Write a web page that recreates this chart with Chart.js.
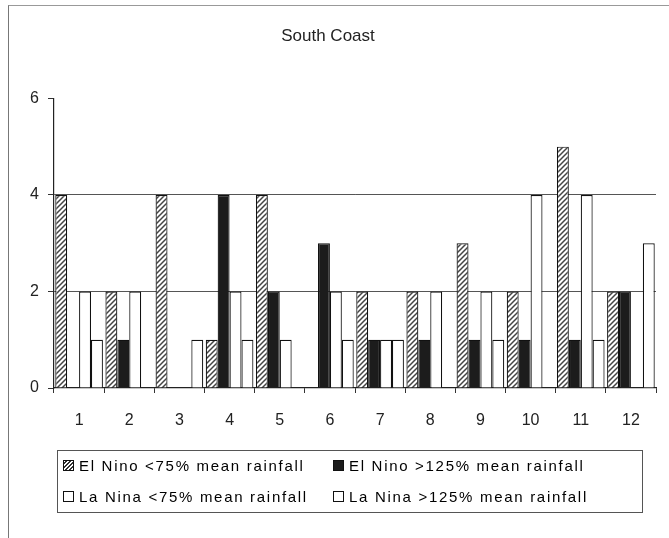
<!DOCTYPE html>
<html>
<head>
<meta charset="utf-8">
<script src="https://cdn.jsdelivr.net/npm/chart.js@4.4.0/dist/chart.umd.min.js"></script>
<style>
  body { margin: 0; background: #fff; }
  #wrap { position: relative; width: 669px; height: 538px; overflow: hidden; }
  #frame { position: absolute; left: 8px; top: 5px; width: 680px; height: 560px; border-left: 1px solid #777; border-top: 1px solid #999; }
  canvas { position: absolute; left: 0; top: 0; }
  .legend { position: absolute; left: 57px; top: 450px; width: 584px; height: 61px; border: 1px solid #555;
            font: 15px "Liberation Sans", Arial, sans-serif; letter-spacing: 1.7px; color: #000; }
  .item { position: absolute; display: flex; align-items: center; white-space: nowrap; }
  .sw { width: 9px; height: 9px; border: 1px solid #111; margin-right: 5px; background: #fff; }
</style>
</head>
<body>
<div id="wrap">
  <div id="frame"></div>
  <canvas id="rainChart" width="669" height="538"></canvas>
  <div class="legend" id="legend"></div>
</div>
<script>
// months and counts per series
const months = ['1', '2', '3', '4', '5', '6', '7', '8', '9', '10', '11', '12'];
const elNinoDry = [4, 2, 4, 1, 4, 0, 2, 2, 3, 2, 5, 2];
const elNinoWet = [0, 1, 0, 4, 2, 3, 1, 1, 1, 1, 1, 2];
const laNinaDry = [2, 2, 0, 2, 1, 2, 1, 2, 2, 4, 4, 0];
const laNinaWet = [1, 0, 1, 1, 0, 1, 1, 0, 1, 0, 1, 3];
const yTicks = [0, 2, 4, 6];
const seriesNames = ['El Nino <75% mean rainfall', 'El Nino >125% mean rainfall',
                     'La Nina <75% mean rainfall', 'La Nina >125% mean rainfall'];

// diagonal hatch for the first series
function hatch() {
  const c = document.createElement('canvas');
  c.width = 5; c.height = 5;
  const g = c.getContext('2d');
  g.fillStyle = '#fff';
  g.fillRect(0, 0, 5, 5);
  g.strokeStyle = '#444';
  g.lineWidth = 1.5;
  g.beginPath();
  g.moveTo(0, 5); g.lineTo(5, 0);
  g.moveTo(-1, 1); g.lineTo(1, -1);
  g.moveTo(4, 6); g.lineTo(6, 4);
  g.stroke();
  return g.createPattern(c, 'repeat');
}

const ctx = document.getElementById('rainChart').getContext('2d');
const fills = [hatch(), '#1c1c1c', '#fff', '#fff'];
const values = [elNinoDry, elNinoWet, laNinaDry, laNinaWet];

new Chart(ctx, {
  type: 'bar',
  data: {
    labels: months,
    datasets: values.map((v, i) => ({
      label: seriesNames[i],
      data: v,
      backgroundColor: fills[i],
      borderColor: '#111',
      borderWidth: 1.2,
      borderSkipped: 'bottom',
      categoryPercentage: 0.95,
      barPercentage: 1.0
    }))
  },
  options: {
    responsive: false,
    animation: false,
    layout: { padding: { left: 0, right: 13, top: 0, bottom: 100 } },
    plugins: {
      legend: { display: false },
      tooltip: { enabled: false },
      title: {
        display: true,
        text: 'South Coast',
        color: '#222',
        font: { family: 'Liberation Sans', size: 17, weight: 'normal' },
        padding: { top: 26, bottom: 52 }
      }
    },
    scales: {
      x: {
        afterFit: s => { s.height = 50; },
        grid: { offset: true, drawOnChartArea: false, tickLength: 5, color: '#333' },
        border: { color: '#222', width: 1.2 },
        ticks: { color: '#222', padding: 18, font: { family: 'Liberation Sans', size: 16 } }
      },
      y: {
        min: 0,
        max: 6,
        afterFit: s => { s.width = 54; },
        afterBuildTicks: s => { s.ticks = yTicks.map(v => ({ value: v })); },
        grid: {
          color: c => (c.tick && (c.tick.value === 2 || c.tick.value === 4)) ? '#555' : 'rgba(0,0,0,0)',
          tickColor: '#333',
          tickLength: 6,
          lineWidth: 1
        },
        border: { color: '#222', width: 1.2 },
        ticks: { color: '#222', padding: 9, font: { family: 'Liberation Sans', size: 16 } }
      }
    }
  }
});

// legend box, 2 x 2
const legend = document.getElementById('legend');
const swatchCss = [
  'background: repeating-linear-gradient(135deg, #fff 0 1.3px, #333 1.3px 2.8px);',
  'background: #1c1c1c;',
  '',
  ''
];
const pos = [[5, 6], [275, 6], [5, 37], [275, 37]];
seriesNames.forEach((name, i) => {
  const it = document.createElement('div');
  it.className = 'item';
  it.style.left = pos[i][0] + 'px';
  it.style.top = pos[i][1] + 'px';
  it.innerHTML = '<span class="sw" style="' + swatchCss[i] + '"></span><span>' + name + '</span>';
  legend.appendChild(it);
});
</script>
</body>
</html>
